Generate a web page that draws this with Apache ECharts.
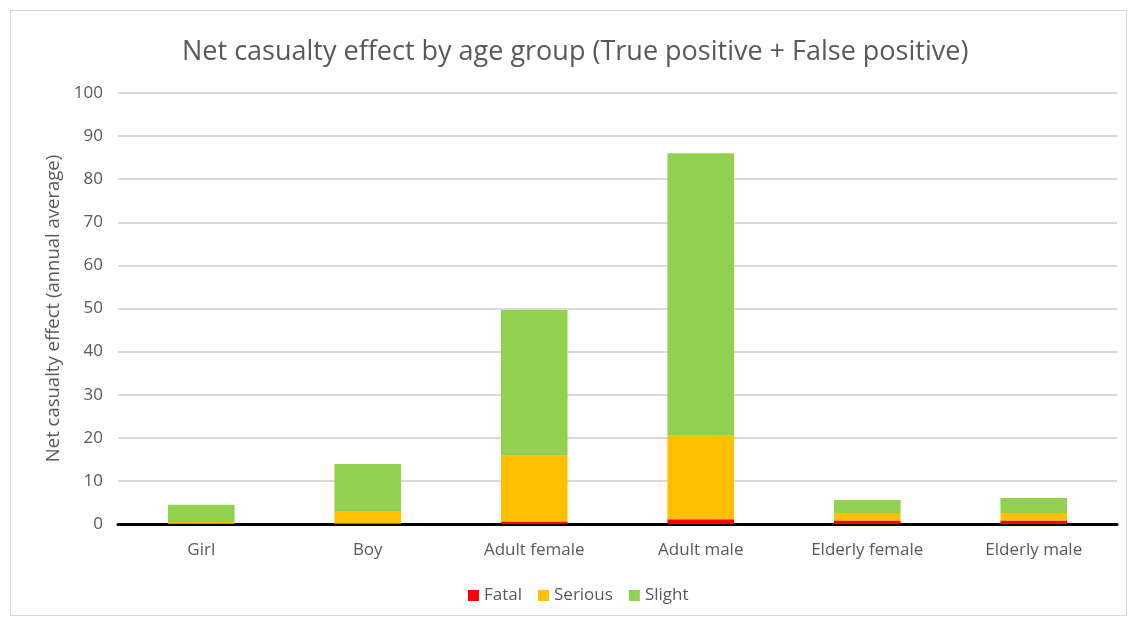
<!DOCTYPE html>
<html>
<head>
<meta charset="utf-8">
<script src="https://cdn.jsdelivr.net/npm/echarts@6/dist/echarts.min.js"></script>
<style>
  html, body { margin: 0; padding: 0; background: #fff; }
  #frame { position: absolute; left: 10px; top: 10px; width: 1117px; height: 606px; border: 1px solid #d9d9d9; box-sizing: border-box; }
  #chart { position: absolute; left: 0; top: 0; width: 1130px; height: 620px; }
</style>
</head>
<body>
<div id="frame"></div>
<div id="chart"></div>
<script>
// Age groups and casualty-severity components (annual average)
const categories = ['Girl', 'Boy', 'Adult female', 'Adult male', 'Elderly female', 'Elderly male'];
const fatal   = [0.05, 0.1, 0.6, 1.1, 0.8, 0.8];
const serious = [0.4, 2.75, 15.25, 19.4, 1.75, 1.75];
const slight  = [4.0, 11.05, 33.8, 65.5, 3.0, 3.5];

const FONT = '"Open Sans", "Liberation Sans", sans-serif';
const TEXT = '#595959';

const chart = echarts.init(document.getElementById('chart'), null, { renderer: 'canvas' });

function barSeries(name, data, color) {
  return {
    name: name,
    type: 'bar',
    stack: 'total',
    data: data,
    barWidth: '40%',
    itemStyle: { color: color },
    emphasis: { disabled: true }
  };
}

chart.setOption({
  animation: false,
  title: {
    text: 'Net casualty effect by age group (True positive + False positive)',
    left: 177,
    top: 34,
    textStyle: { fontFamily: FONT, fontSize: 27, fontWeight: 'normal', color: TEXT }
  },
  legend: {
    bottom: 11,
    left: 463,
    itemWidth: 11,
    itemHeight: 11,
    itemGap: 16,
    icon: 'rect',
    textStyle: { fontFamily: FONT, fontSize: 17, color: TEXT },
    data: ['Fatal', 'Serious', 'Slight']
  },
  grid: { left: 118, right: 13, top: 93, bottom: 96, containLabel: false },
  xAxis: {
    type: 'category',
    data: categories,
    axisTick: { show: false },
    axisLine: { lineStyle: { color: '#000', width: 3 } },
    axisLabel: { fontFamily: FONT, fontSize: 17, color: TEXT, margin: 18 }
  },
  yAxis: {
    type: 'value',
    min: 0,
    max: 100,
    interval: 10,
    name: 'Net casualty effect (annual average)',
    nameLocation: 'middle',
    nameGap: 55,
    nameTextStyle: { fontFamily: FONT, fontSize: 18.5, color: TEXT },
    axisLine: { show: false },
    axisTick: { show: false },
    axisLabel: { fontFamily: FONT, fontSize: 17, color: TEXT, margin: 15 },
    splitLine: { lineStyle: { color: '#d9d9d9', width: 2 } }
  },
  series: [
    barSeries('Fatal', fatal, '#ff0000'),
    barSeries('Serious', serious, '#ffc000'),
    barSeries('Slight', slight, '#92d050')
  ]
});
</script>
</body>
</html>
